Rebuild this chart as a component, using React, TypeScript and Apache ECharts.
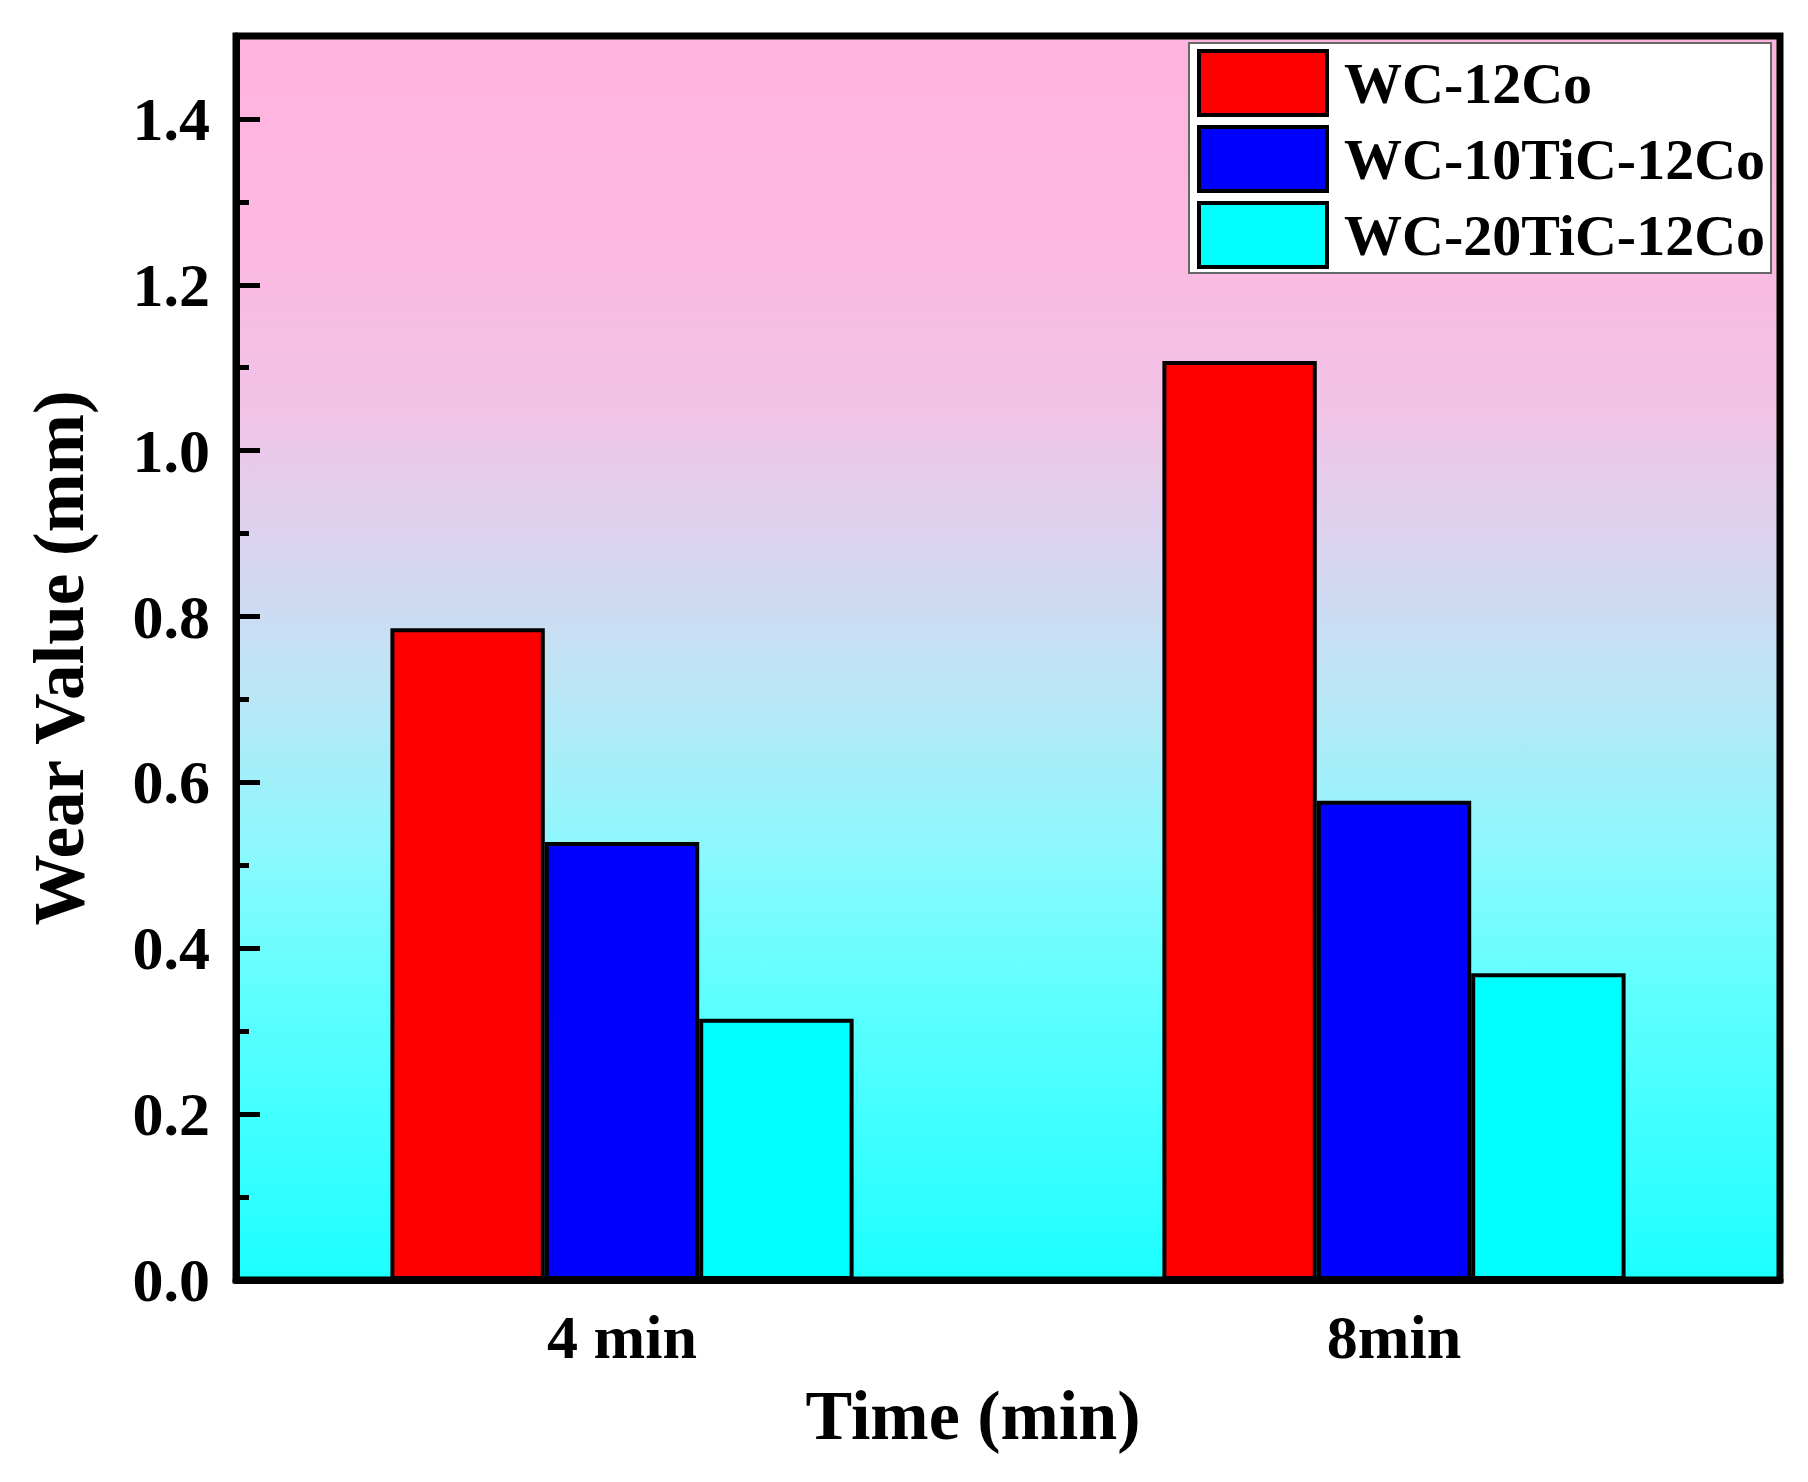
import React, { useEffect, useRef } from "react";
import * as echarts from "echarts";

const categories = ["4 min", "8min"];
const seriesNames = ["WC-12Co", "WC-10TiC-12Co", "WC-20TiC-12Co"];
const wc12co = [0.786, 1.108];
const wc10tic = [0.528, 0.578];
const wc20tic = [0.315, 0.37];
const seriesColors = ["#ff0000", "#0000ff", "#00ffff"];

const FONT = '"Liberation Serif", "Times New Roman", serif';

export default function App() {
  const ref = useRef<HTMLDivElement>(null);
  useEffect(() => {
    if (!ref.current) return;
    const chart = echarts.init(ref.current, undefined, { renderer: "svg" });
    const values = [wc12co, wc10tic, wc20tic];
    const bg = new echarts.graphic.LinearGradient(0, 0, 0, 1, [
      { offset: 0, color: "#ffb3df" },
      { offset: 0.16, color: "#fdb8e1" },
      { offset: 0.3, color: "#f1c3e7" },
      { offset: 0.43, color: "#d6d7f1" },
      { offset: 0.55, color: "#b3e9f7" },
      { offset: 0.66, color: "#8af9fd" },
      { offset: 0.78, color: "#5cffff" },
      { offset: 1, color: "#1cffff" },
    ]);
    chart.setOption({
      animation: false,
      backgroundColor: "#ffffff",
      textStyle: { fontFamily: FONT, color: "#000" },
      grid: {
        left: 236,
        right: 28,
        top: 36,
        bottom: 202,
        show: true,
        backgroundColor: bg,
        borderColor: "#000",
        borderWidth: 7,
      },
      legend: {
        orient: "vertical",
        left: 1189,
        top: 43,
        itemWidth: 128,
        itemHeight: 64,
        itemGap: 8,
        padding: [6, 6, 4, 8],
        backgroundColor: "#ffffff",
        borderColor: "#666",
        borderWidth: 2,
        icon: "rect",
        itemStyle: { borderColor: "#000", borderWidth: 4 },
        textStyle: {
          fontFamily: FONT,
          fontWeight: "bold",
          fontSize: 58,
          color: "#000",
          lineHeight: 65,
          padding: [0, 0, 0, 12],
        },
        data: seriesNames,
      },
      xAxis: {
        type: "category",
        data: categories,
        boundaryGap: true,
        name: "Time (min)",
        nameLocation: "middle",
        nameGap: 100,
        nameTextStyle: {
          fontFamily: FONT,
          fontWeight: "bold",
          fontSize: 70,
          color: "#000",
          padding: [0, 70, 0, 0],
        },
        axisLine: { show: true, lineStyle: { color: "#000", width: 7 } },
        axisTick: { show: false },
        axisLabel: {
          fontFamily: FONT,
          fontWeight: "bold",
          fontSize: 62,
          color: "#000",
          margin: 26,
        },
        splitLine: { show: false },
      },
      yAxis: [
        {
          type: "value",
          min: 0,
          max: 1.5,
          interval: 0.1,
          name: "Wear Value (mm)",
          nameLocation: "middle",
          nameGap: 142,
          nameTextStyle: { fontFamily: FONT, fontWeight: "bold", fontSize: 71, color: "#000" },
          axisLine: { show: true, lineStyle: { color: "#000", width: 7 } },
          axisTick: { show: true, inside: true, length: 13, lineStyle: { color: "#000", width: 5 } },
          axisLabel: {
            fontFamily: FONT,
            fontWeight: "bold",
            fontSize: 62,
            color: "#000",
            margin: 26,
            formatter: (v: number) => {
              const k = Math.round(v * 10);
              return k % 2 === 0 ? (k / 10).toFixed(1) : "";
            },
          },
          splitLine: { show: false },
        },
        {
          type: "value",
          min: 0,
          max: 1.5,
          interval: 0.2,
          position: "left",
          offset: 0,
          axisLine: { show: false },
          axisTick: { show: true, inside: true, length: 24, lineStyle: { color: "#000", width: 5 } },
          axisLabel: { show: false },
          splitLine: { show: false },
        },
      ],
      series: seriesNames.map((name, i) => ({
        name,
        type: "bar",
        yAxisIndex: 0,
        data: values[i],
        barWidth: "20%",
        barGap: "0%",
        itemStyle: { color: seriesColors[i], borderColor: "#000", borderWidth: 4 },
      })),
    });
    return () => chart.dispose();
  }, []);
  return (
    <div
      ref={ref}
      style={{ position: "fixed", left: 0, top: 0, width: 1808, height: 1482 }}
    />
  );
}
